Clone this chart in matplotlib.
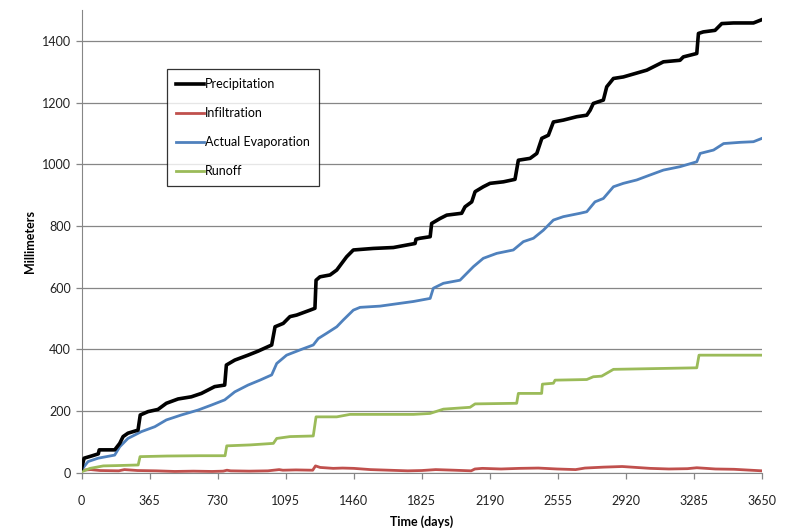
import numpy as np
import matplotlib
matplotlib.use('Agg')
import matplotlib.pyplot as plt

plt.rcParams['font.family'] = ['Lato', 'DejaVu Sans']

# cumulative water balance (mm)
precip_days = [0, 14, 53, 90, 95, 178, 205, 223, 249, 303, 315, 357, 410, 455, 518, 589, 643, 714,
               768, 777, 822, 893, 947, 1020, 1038, 1082, 1118, 1154, 1226, 1252, 1258, 1279, 1333,
               1369, 1396, 1422, 1458, 1565, 1673, 1744, 1789, 1794, 1816, 1870, 1878, 1923, 1959,
               2039, 2057, 2093, 2111, 2155, 2191, 2263, 2325, 2343, 2406, 2442, 2469, 2504, 2531,
               2584, 2656, 2710, 2728, 2745, 2799, 2817, 2853, 2906, 2969, 3032, 3121, 3210, 3228,
               3300, 3309, 3335, 3398, 3434, 3497, 3604, 3650]
precip_vals = [14, 47, 54, 61, 74, 74, 95, 117, 128, 138, 187, 198, 205, 225, 239, 246, 257, 279,
               284, 349, 365, 381, 394, 414, 473, 484, 506, 511, 527, 533, 624, 635, 641,
               657, 679, 700, 722, 727, 730, 738, 743, 757, 760, 765, 808, 824, 835,
               841, 862, 878, 911, 927, 938, 943, 951, 1013, 1019, 1035, 1084, 1094, 1137,
               1143, 1154, 1159, 1175, 1197, 1208, 1251, 1278, 1283, 1294, 1305, 1332, 1337, 1348,
               1359, 1424, 1429, 1434, 1456, 1458, 1458, 1469]

infil_days = [0, 50, 100, 200, 230, 300, 400, 500, 600, 700, 760, 780, 800, 900, 1000, 1060, 1080,
              1150, 1240, 1255, 1280, 1350, 1400, 1460, 1550, 1650, 1750, 1825, 1900, 2000, 2090,
              2110, 2150, 2250, 2350, 2450, 2550, 2650, 2700, 2800, 2900, 2950, 3050, 3150, 3250,
              3300, 3400, 3500, 3650]
infil_vals = [8, 10, 7, 6, 10, 7, 6, 4, 5, 4, 5, 8, 6, 5, 6, 10, 8,
              9, 8, 22, 17, 14, 15, 14, 10, 8, 6, 7, 10, 8, 6,
              12, 14, 12, 14, 15, 12, 10, 15, 18, 20, 18, 14, 12, 13,
              16, 12, 11, 6]

evap_days = [0, 35, 89, 178, 205, 249, 321, 393, 455, 535, 625, 696, 768, 822, 893, 957, 1020, 1047,
             1100, 1172, 1243, 1270, 1315, 1369, 1404, 1458, 1494, 1601, 1708, 1780, 1870, 1887,
             1941, 2030, 2102, 2155, 2227, 2316, 2370, 2424, 2477, 2531, 2584, 2674, 2710, 2754,
             2799, 2853, 2906, 2978, 3049, 3121, 3210, 3300, 3318, 3390, 3444, 3533, 3604, 3650]
evap_vals = [9, 36, 47, 57, 84, 111, 133, 149, 171, 187, 203, 219, 236, 262, 284, 300, 317, 354,
             381, 398, 414, 435, 452, 473, 495, 527, 536, 540, 549, 555, 565, 598,
             614, 624, 668, 695, 711, 722, 749, 760, 786, 819, 830, 841, 846, 878,
             889, 927, 938, 949, 965, 981, 992, 1008, 1035, 1046, 1067, 1071, 1073, 1084]

runoff_days = [0, 46, 117, 189, 304, 314, 457, 636, 770, 779, 904, 1029, 1047, 1118, 1243, 1258,
               1369, 1440, 1780, 1869, 1941, 2084, 2111, 2334, 2343, 2468, 2472, 2531, 2540, 2710,
               2745, 2790, 2853, 3121, 3300, 3312, 3650]
runoff_vals = [3, 14, 22, 23, 25, 52, 54, 55, 55, 87, 90, 95, 111, 117, 119, 181,
               181, 189, 189, 192, 206, 212, 223, 225, 257, 257, 287, 290, 300, 302,
               311, 313, 335, 338, 340, 381, 381]

x_ticks = [0, 365, 730, 1095, 1460, 1825, 2190, 2555, 2920, 3285, 3650]

fig = plt.figure(figsize=(7.86, 5.32), dpi=100)
ax = fig.add_axes([0.1037, 0.1115, 0.8658, 0.8697])

ax.plot(precip_days, precip_vals, color='black', lw=2.6, label='Precipitation', zorder=4)
ax.plot(infil_days, infil_vals, color='#C0504D', lw=2.0, label='Infiltration', zorder=3)
ax.plot(evap_days, evap_vals, color='#4F81BD', lw=2.0, label='Actual Evaporation', zorder=3)
ax.plot(runoff_days, runoff_vals, color='#9BBB59', lw=2.0, label='Runoff', zorder=3)

ax.set_xlim(0, 3650)
ax.set_ylim(0, 1500)
ax.set_xticks(x_ticks)
ax.set_yticks(np.arange(0, 1401, 200))
ax.grid(axis='y', color='#868686', lw=0.9)
ax.set_axisbelow(True)

for s in ['top', 'right']:
    ax.spines[s].set_visible(False)
ax.spines['left'].set_color('#868686')
ax.spines['bottom'].set_color('#868686')
ax.tick_params(axis='both', colors='#868686', labelcolor='#222222', labelsize=9,
               length=4, width=0.9, direction='out')
ax.tick_params(axis='x', pad=12)

ax.set_xlabel('Time (days)', fontsize=9, fontweight='bold', labelpad=6)
ax.set_ylabel('Millimeters', fontsize=9, fontweight='bold', labelpad=4)

leg = ax.legend(loc='upper left', bbox_to_anchor=(167 / 786, 1 - 69 / 532),
                bbox_transform=fig.transFigure, fontsize=9, frameon=True, fancybox=False,
                handlelength=2.2, handletextpad=0.1, labelspacing=1.35, borderpad=0.75,
                borderaxespad=0)
leg.get_frame().set_edgecolor('black')
leg.get_frame().set_linewidth(0.9)

plt.savefig('out.png', dpi=100)
